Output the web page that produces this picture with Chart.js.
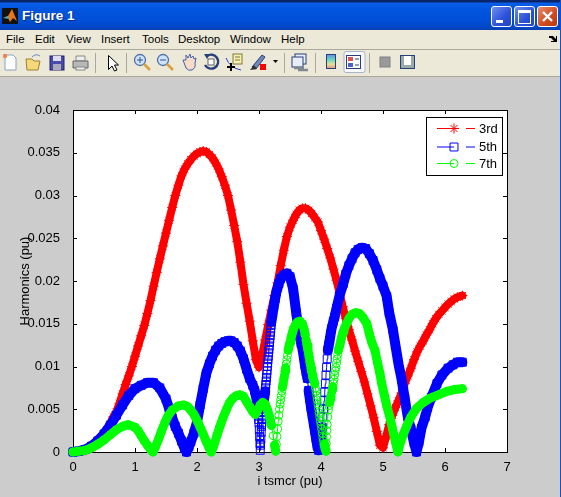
<!DOCTYPE html>
<html>
<head>
<meta charset="utf-8">
<title>Figure 1</title>
<script src="https://cdn.jsdelivr.net/npm/chart.js@4"></script>
<style>
html, body { margin: 0; padding: 0; background: #ccc; overflow: hidden; }
#win { position: absolute; left: 0; top: 0; width: 561px; height: 497px; background: #ccc; font-family: "Liberation Sans", Arial, sans-serif; }
#edge { position: absolute; left: 560px; top: 0; width: 1px; height: 497px; background: #0a50d8; }
#titlebar { position: absolute; left: 0; top: 0; width: 561px; height: 30px; background: linear-gradient(#0a246a 0, #0a246a 2px, #0a5fe8 3px, #0256df 8px, #0050d8 20px, #0148c8 27px, #0a3fb0 30px); }
#titletext { position: absolute; left: 22px; top: 8px; color: #fff; font: bold 13.5px "Liberation Sans", sans-serif; text-shadow: 1px 1px 0 #0a2a80; }
.winbtn { position: absolute; top: 6px; width: 19px; height: 19px; border: 1px solid #fff; border-radius: 3px; background: linear-gradient(135deg, #6f8ff0, #2a50d8 60%, #2348c0); }
#menubar { position: absolute; left: 0; top: 30px; width: 561px; height: 19px; background: #ece9d8; border-bottom: 1px solid #aca899; }
#menubar span { position: absolute; top: 3px; font-size: 11.5px; color: #000; }
#toolbar { position: absolute; left: 0; top: 50px; width: 561px; height: 26px; background: #ece9d8; border-bottom: 1px solid #aca899; }
#toolbar svg { position: absolute; left: 0; top: 0; }
#chart { position: absolute; left: 0; top: 77px; }
</style>
</head>
<body>
<div id="win">
  <div id="titlebar">
    <svg style="position:absolute;left:2px;top:8px" width="16" height="16"><rect width="16" height="16" fill="#111"/><path d="M1 10L6 8L10 1L15 13L11 10L8 14L6 10Z" fill="#e8761a"/><path d="M1 10L6 8L7 11Z" fill="#3fa8c8"/></svg>
    <div id="titletext">Figure 1</div>
    <div class="winbtn" style="left:491px"><div style="position:absolute;left:4px;top:13px;width:7px;height:3px;background:#fff"></div></div>
    <div class="winbtn" style="left:514px"><div style="position:absolute;left:3px;top:3px;width:11px;height:10px;border:1px solid #fff;border-top-width:3px;box-sizing:content-box"></div></div>
    <div class="winbtn" style="left:537px;background:linear-gradient(135deg,#e88a6a,#d04a20 60%,#b83810)"><svg width="19" height="19"><path d="M5 5L14 14M14 5L5 14" stroke="#fff" stroke-width="2.4"/></svg></div>
  </div>
  <div id="menubar">
    <span style="left:6px">File</span><span style="left:35px">Edit</span><span style="left:66px">View</span><span style="left:101px">Insert</span><span style="left:142px">Tools</span><span style="left:178px">Desktop</span><span style="left:230px">Window</span><span style="left:281px">Help</span>
    <svg style="position:absolute;left:548px;top:4px" width="10" height="10"><path d="M1 2L5 2L8 5L8 2L9 2L9 8L3 8L3 7L6 7L3 4L1 4Z" fill="#000"/></svg>
  </div>
  <div id="toolbar">
    <svg width="561" height="26">
      <!-- new / open / save / print -->
      <path d="M5 5H13L16 8V20H5Z" fill="#fff" stroke="#8aa0c0"/><circle cx="5" cy="6" r="2.2" fill="#f08050"/>
      <path d="M26 9H32L34 11H40L38 20H27Z" fill="#f5d878" stroke="#a08030"/><path d="M32 7Q36 3 40 6" stroke="#6a8ac0" fill="none"/>
      <rect x="50" y="6" width="14" height="14" fill="#4a4aa8" stroke="#22226a"/><rect x="53" y="6" width="8" height="5" fill="#dde"/><rect x="53" y="14" width="8" height="6" fill="#aab"/>
      <path d="M76 6H85V11H76Z" fill="#eee" stroke="#888"/><path d="M73 11H88V18H73Z" fill="#b8b8b8" stroke="#666"/><rect x="76" y="17" width="9" height="3" fill="#eee" stroke="#888"/>
      <rect x="95" y="3" width="1" height="20" fill="#aca899"/>
      <!-- arrow -->
      <path d="M108.500 5.500V19.500L112 16L114.500 21L117 20L114.500 15L118.500 15Z" fill="#fff" stroke="#000"/>
      <rect x="126" y="3" width="1" height="20" fill="#aca899"/>
      <!-- zoom in / out -->
      <circle cx="140" cy="10" r="5.500" fill="#cfe4f8" stroke="#5070a8" stroke-width="1.300"/><path d="M137 10H143M140 7V13" stroke="#3050a0"/><path d="M144 14L150 20" stroke="#d8a040" stroke-width="2.600"/>
      <circle cx="163" cy="10" r="5.500" fill="#cfe4f8" stroke="#5070a8" stroke-width="1.300"/><path d="M160 10H166" stroke="#3050a0"/><path d="M167 14L173 20" stroke="#d8a040" stroke-width="2.600"/>
      <!-- hand -->
      <path d="M183 10L186 18Q188 21 192 20Q196 18 195 13L196 8L194 9L193 6L191 8L190 4L188 8L186 5L186 10Z" fill="#f8dcc8" stroke="#4060a8"/>
      <!-- rotate -->
      <path d="M207 6A7 7 0 1 1 205 15" fill="none" stroke="#28407a" stroke-width="2.400"/><path d="M204 4L210 4L207 9Z" fill="#28407a"/><rect x="208" y="9" width="6" height="6" fill="#fff" stroke="#606060"/>
      <!-- data cursor -->
      <rect x="233" y="4" width="9" height="10" fill="#f5f0b0" stroke="#807840"/><path d="M235 7H240M235 10H240" stroke="#807840"/><path d="M226 8Q230 18 241 20" fill="none" stroke="#2040d0"/><path d="M227 17H235M231 13V21" stroke="#000" stroke-width="2"/>
      <!-- brush -->
      <path d="M252 17L262 5L265 7L256 19Z" fill="#7088c0" stroke="#304070"/><path d="M250 20L254 15L257 19Z" fill="#303030"/><rect x="260" y="14" width="6" height="6" fill="#f00"/>
      <path d="M273 10H278L275.500 13Z" fill="#000"/>
      <rect x="284" y="3" width="1" height="20" fill="#aca899"/>
      <!-- link -->
      <rect x="295" y="4" width="11" height="10" fill="#e8eef8" stroke="#28407a"/><rect x="292" y="7" width="11" height="10" fill="#e8eef8" stroke="#28407a"/><path d="M294 18H304M298 20H308" stroke="#808890" stroke-width="2.400"/>
      <rect x="315" y="3" width="1" height="20" fill="#aca899"/>
      <!-- colorbar -->
      <defs><linearGradient id="cb" x1="0" y1="0" x2="0" y2="1"><stop offset="0" stop-color="#6090e0"/><stop offset=".4" stop-color="#70d8c0"/><stop offset=".7" stop-color="#e8e090"/><stop offset="1" stop-color="#e09090"/></linearGradient></defs>
      <rect x="326.500" y="4.500" width="9" height="14" fill="url(#cb)" stroke="#28407a"/>
      <!-- legend, pressed -->
      <rect x="344" y="1.500" width="21" height="21" rx="2" fill="#f7f8fb" stroke="#a8b4cc"/>
      <rect x="346.500" y="5.500" width="14" height="13" fill="#fff" stroke="#28407a"/><rect x="348" y="7" width="5" height="4" fill="#e05050"/><rect x="348" y="13" width="5" height="4" fill="#5060d0"/><path d="M355 9H359M355 15H359" stroke="#28407a"/>
      <rect x="369" y="3" width="1" height="20" fill="#aca899"/>
      <rect x="380" y="7" width="10" height="10" fill="#999" stroke="#808080"/>
      <rect x="400.500" y="5.500" width="14" height="13" fill="#fff" stroke="#28407a"/><rect x="401" y="6" width="3" height="12" fill="#9aa"/><rect x="411" y="6" width="3" height="12" fill="#9aa"/><rect x="401" y="15" width="13" height="3" fill="#9aa"/>
    </svg>
  </div>
  <canvas id="chart" width="561" height="420"></canvas>
  <div id="edge"></div>
</div>
<script>
// values
const t3rd = [0,.1,.2,.3,.4,.45,.5,.55,.6,.65,.7,.75,.8,.85,.9,.95,1,1.05,1.1,1.15,1.2,1.25,1.3,1.35,1.4,1.45,1.5,1.55,1.6,1.65,1.7,1.75,1.8,1.85,1.9,1.95,2,2.05,2.1,2.15,2.2,2.25,2.3,2.35,2.4,2.45,2.5,2.55,2.6,2.65,2.7,2.75,2.8,2.85,2.9,2.95,3,3.05,3.1,3.15,3.2,3.25,3.3,3.35,3.4,3.45,3.5,3.55,3.6,3.65,3.7,3.75,3.8,3.85,3.9,3.95,4,4.05,4.1,4.15,4.2,4.25,4.3,4.35,4.4,4.45,4.5,4.55,4.6,4.65,4.7,4.75,4.8,4.85,4.9,4.95,5,5.05,5.1,5.15,5.2,5.25,5.3,5.35,5.4,5.45,5.5,5.55,5.6,5.65,5.7,5.75,5.8,5.85,5.9,5.95,6,6.05,6.1,6.15,6.2,6.28];
const h3rd = [0,.0001,.0002,.0005,.001,.0014,.0019,.0026,.0033,.0041,.0047,.0057,.0068,.0079,.0089,.01,.0112,.0124,.0136,.0148,.0162,.0177,.0194,.021,.0226,.0241,.0256,.0271,.0286,.03,.0312,.0323,.0331,.0337,.0342,.0346,.0349,.0351,.0352,.0351,.0348,.0344,.0338,.0331,.0322,.0312,.03,.0283,.0265,.0246,.0222,.0196,.0174,.0153,.013,.0108,.0099,.0113,.0131,.0149,.0166,.0183,.0198,.0218,.0236,.0252,.0263,.0271,.0278,.0283,.0285,.0285,.0283,.0279,.0274,.0269,.0259,.0249,.0238,.0227,.0214,.0201,.0186,.017,.0156,.0143,.0131,.0118,.0106,.0094,.0082,.0068,.0054,.004,.0024,.0008,.0005,.0018,.0032,.0043,.0052,.006,.0069,.008,.0089,.0098,.0108,.0117,.0124,.013,.0137,.0143,.015,.0156,.0161,.0165,.0169,.0173,.0176,.0179,.0181,.0183];

const t5th = [0,.1,.2,.3,.4,.5,.6,.7,.8,.9,1,1.1,1.2,1.3,1.4,1.5,1.55,1.6,1.65,1.7,1.75,1.8,1.83,1.87,1.9,1.95,2,2.05,2.1,2.15,2.2,2.25,2.3,2.35,2.4,2.45,2.5,2.55,2.6,2.65,2.7,2.75,2.8,2.85,2.9,2.93,2.96,2.97,2.98,2.985,2.99,2.995,3,3.005,3.01,3.015,3.02,3.025,3.03,3.035,3.04,3.045,3.05,3.055,3.06,3.065,3.07,3.075,3.08,3.09,3.1,3.105,3.11,3.115,3.12,3.125,3.13,3.135,3.14,3.145,3.15,3.155,3.16,3.165,3.17,3.175,3.18,3.185,3.19,3.195,3.2,3.22,3.24,3.26,3.28,3.3,3.32,3.35,3.4,3.45,3.5,3.55,3.6,3.62,3.64,3.66,3.68,3.7,3.72,3.74,3.76,3.78,3.8,3.82,3.84,3.86,3.88,3.9,3.92,3.94,3.96,3.98,4,4.02,4.03,4.04,4.05,4.06,4.07,4.08,4.09,4.1,4.11,4.125,4.14,4.155,4.17,4.2,4.22,4.25,4.3,4.36,4.4,4.45,4.5,4.55,4.6,4.66,4.72,4.78,4.84,4.9,4.95,5,5.06,5.1,5.16,5.2,5.25,5.3,5.35,5.4,5.45,5.5,5.54,5.58,5.62,5.68,5.72,5.78,5.87,5.95,6.05,6.13,6.2,6.28];
const h5th = [0,.0001,.0003,.0007,.0013,.0021,.0031,.0043,.0055,.0066,.0074,.0078,.0081,.0081,.0075,.0062,.0051,.004,.003,.0022,.0013,.0004,0,.0006,.0012,.0022,.0035,.0055,.0074,.0092,.0103,.0112,.0119,.0124,.0127,.0129,.013,.013,.0128,.0124,.0118,.0109,.0097,.0086,.0078,.0072,.0062,.0056,.005,.0046,.0042,.0038,.0034,.0026,.0018,.001,.0002,.0008,.0015,.0023,.003,.0034,.0038,.0042,.0046,.005,.0054,.0058,.0061,.0066,.0071,.0075,.0079,.0083,.0087,.0091,.0095,.01,.0104,.0108,.0112,.0116,.012,.0124,.0128,.0132,.0136,.014,.0144,.0148,.0152,.0162,.0171,.0179,.0187,.0192,.0197,.0203,.0207,.0209,.0205,.0191,.0163,.0153,.0144,.0135,.0127,.0121,.0112,.0102,.0094,.0086,.0072,.0062,.0052,.0043,.0034,.0025,.0016,.0007,.0002,.0008,.0018,.0029,.0041,.005,.006,.007,.008,.009,.0099,.0109,.0119,.0125,.0131,.0138,.0144,.0153,.0158,.0168,.0183,.0197,.0208,.0218,.0226,.0233,.0237,.0239,.0238,.0232,.0224,.0213,.0203,.0194,.0182,.0163,.0143,.0125,.0103,.0085,.0063,.0041,.0027,.0011,0,.0012,.0028,.0041,.0052,.0064,.008,.009,.0098,.0102,.0105,.0105];

const t7th = [0,.1,.2,.3,.4,.5,.6,.7,.8,.89,1,1.05,1.1,1.15,1.2,1.25,1.29,1.33,1.38,1.43,1.48,1.53,1.6,1.7,1.79,1.85,1.9,1.95,2,2.05,2.1,2.15,2.2,2.23,2.27,2.32,2.37,2.42,2.47,2.52,2.58,2.64,2.69,2.75,2.8,2.85,2.9,2.94,2.98,3.02,3.06,3.1,3.14,3.17,3.2,3.23,3.25,3.27,3.28,3.29,3.3,3.31,3.32,3.33,3.34,3.35,3.36,3.37,3.38,3.39,3.4,3.41,3.42,3.43,3.44,3.45,3.46,3.47,3.485,3.5,3.515,3.53,3.545,3.56,3.59,3.62,3.66,3.7,3.73,3.745,3.76,3.775,3.79,3.8,3.81,3.82,3.83,3.84,3.85,3.86,3.87,3.885,3.9,3.91,3.92,3.93,3.94,3.95,3.96,3.97,3.98,3.99,4,4.01,4.02,4.03,4.04,4.05,4.06,4.07,4.08,4.085,4.09,4.095,4.1,4.11,4.12,4.13,4.14,4.15,4.16,4.17,4.18,4.19,4.2,4.21,4.22,4.23,4.24,4.25,4.26,4.27,4.28,4.295,4.31,4.325,4.34,4.355,4.37,4.41,4.45,4.5,4.56,4.62,4.68,4.74,4.78,4.82,4.87,4.91,4.95,4.98,5.02,5.06,5.11,5.15,5.2,5.24,5.28,5.33,5.38,5.45,5.54,5.65,5.76,5.9,6.03,6.15,6.28];
const h7th = [0,.0001,.0002,.0005,.0009,.0014,.002,.0026,.003,.0032,.0029,.0025,.0019,.0013,.0008,.0003,0,.0006,.0015,.0025,.0034,.0042,.0049,.0054,.0055,.0053,.0049,.0044,.0037,.0029,.0021,.0012,.0004,0,.0007,.0019,.003,.004,.0049,.0057,.0063,.0066,.0067,.0065,.0059,.0053,.0047,.0044,.0049,.0055,.0058,.0056,.0049,.0041,.0031,.0019,.0008,.0001,.0009,.0018,.0027,.0036,.0043,.005,.0056,.0061,.0066,.0071,.0076,.008,.0085,.0089,.0094,.0098,.0103,.0108,.0113,.0119,.0124,.0128,.0133,.0137,.0141,.0145,.0149,.0152,.0153,.015,.0143,.0137,.0131,.0125,.0119,.0115,.0111,.0106,.0102,.0098,.0094,.009,.0087,.0083,.008,.0075,.0071,.0066,.0061,.0056,.0051,.0046,.0041,.0036,.0032,.0027,.0022,.0017,.0013,.0009,.0006,.0003,.0001,.001,.0018,.0025,.0032,.0041,.0049,.0054,.0058,.0062,.0065,.0069,.0073,.0076,.008,.0085,.009,.0095,.0099,.0104,.0109,.0114,.0119,.0123,.0127,.0132,.0136,.014,.0143,.015,.0156,.0161,.0163,.0162,.0157,.015,.0138,.0128,.0119,.0105,.0092,.008,.0067,.0054,.0041,.0028,.0012,0,.0011,.0021,.003,.0041,.0051,.0058,.0063,.0067,.0071,.0073,.0074];

const xTickLabels = ['0','1','2','3','4','5','6','7'];
const yTickLabels = ['0','0.005','0.01','0.015','0.02','0.025','0.03','0.035','0.04'];
const seriesNames = ['3rd','5th','7th'];
const seriesColors = ['#ff0000','#0000ff','#00ff00'];

const pairUp = (xs, ys) => xs.map((x, i) => ({ x: x, y: ys[i] }));

// the original has so many markers they merge into a band, except on the steep parts
function bandWidth(wide, limit) {
    return ctx => {
        const a = ctx.p0.parsed, b = ctx.p1.parsed;
        const slope = Math.abs(b.y - a.y) / Math.abs(b.x - a.x);
        return slope > limit ? 1 : wide;
    };
}

// axes box with inward ticks, MATLAB style
const matlabBox = {
    id: 'matlabBox',
    beforeDatasetsDraw(chart) {
        const { ctx, chartArea: a, scales } = chart;
        ctx.save();
        ctx.fillStyle = '#fff';
        ctx.fillRect(a.left, a.top, a.right - a.left, a.bottom - a.top);
        ctx.strokeStyle = '#000';
        ctx.lineWidth = 1;
        ctx.strokeRect(a.left + .5, a.top + .5, a.right - a.left, a.bottom - a.top);
        ctx.beginPath();
        scales.x.ticks.forEach(t => {
            const x = Math.round(scales.x.getPixelForValue(t.value)) + .5;
            ctx.moveTo(x, a.bottom); ctx.lineTo(x, a.bottom - 4);
            ctx.moveTo(x, a.top); ctx.lineTo(x, a.top + 4);
        });
        scales.y.ticks.forEach(t => {
            const y = Math.round(scales.y.getPixelForValue(t.value)) + .5;
            ctx.moveTo(a.left, y); ctx.lineTo(a.left + 4, y);
            ctx.moveTo(a.right, y); ctx.lineTo(a.right - 4, y);
        });
        ctx.stroke();
        ctx.restore();
    }
};

// legend box in the top right corner of the axes
const matlabLegend = {
    id: 'matlabLegend',
    afterDatasetsDraw(chart) {
        const { ctx, chartArea: a } = chart;
        const left = a.right - 81, top = a.top + 7, rows = [11, 29.5, 46];
        ctx.save();
        ctx.fillStyle = '#fff';
        ctx.fillRect(left, top, 76, 58);
        ctx.strokeStyle = '#000';
        ctx.lineWidth = 1;
        ctx.strokeRect(left + .5, top + .5, 76, 58);
        ctx.font = '13px "Liberation Sans", Arial, sans-serif';
        ctx.textBaseline = 'middle';
        chart.data.datasets.forEach((ds, i) => {
            const y = top + rows[i] + .5;
            ctx.strokeStyle = ds.borderColor;
            ctx.beginPath();
            ctx.moveTo(left + 11, y); ctx.lineTo(left + 28, y);
            ctx.moveTo(left + 40, y); ctx.lineTo(left + 49, y);
            ctx.stroke();
            ctx.fillStyle = 'rgba(0,0,0,0)';
            Chart.helpers.drawPoint(ctx, { pointStyle: ds.pointStyle, radius: ds.pointRadius, rotation: 0, borderWidth: 1 }, left + 28, y);
            ctx.fillStyle = '#000';
            ctx.fillText(ds.label, left + 53, y + .5);
        });
        ctx.restore();
    }
};

const labelFont = { family: '"Liberation Sans", Arial, sans-serif', size: 13 };
const bandOpts = { backgroundColor: 'transparent', pointBackgroundColor: 'transparent', pointBorderWidth: 1, borderCapStyle: 'round', borderJoinStyle: 'round', clip: false };

new Chart(document.getElementById('chart').getContext('2d'), {
    type: 'line',
    data: {
        datasets: [
            { ...bandOpts, label: seriesNames[0], data: pairUp(t3rd, h3rd), borderColor: seriesColors[0], pointBorderColor: seriesColors[0], pointStyle: 'star', pointRadius: 5, borderWidth: 8, order: 3, segment: { borderWidth: bandWidth(8, 1) } },
            { ...bandOpts, label: seriesNames[1], data: pairUp(t5th, h5th), borderColor: seriesColors[1], pointBorderColor: seriesColors[1], pointStyle: 'rect', pointRadius: 5.6, borderWidth: 10, order: 2, segment: { borderWidth: bandWidth(10, .06) } },
            { ...bandOpts, label: seriesNames[2], data: pairUp(t7th, h7th), borderColor: seriesColors[2], pointBorderColor: seriesColors[2], pointStyle: 'circle', pointRadius: 4, borderWidth: 9, order: 1, segment: { borderWidth: bandWidth(9, .04) } }
        ]
    },
    options: {
        responsive: false,
        animation: false,
        parsing: false,
        layout: { padding: { top: 33, right: 54, left: 0, bottom: 0 } },
        plugins: { legend: { display: false }, tooltip: { enabled: false } },
        scales: {
            x: {
                type: 'linear', min: 0, max: 7,
                grid: { display: false }, border: { display: false },
                ticks: { stepSize: 1, color: '#000', font: labelFont, padding: 0, maxRotation: 0, callback: (v, i) => xTickLabels[i] },
                title: { display: true, text: 'i tsmcr (pu)', color: '#000', font: labelFont, padding: { top: 5, bottom: 8 } },
                afterFit: s => { s.height = 45; }
            },
            y: {
                type: 'linear', min: 0, max: 0.04,
                grid: { display: false }, border: { display: false },
                ticks: { stepSize: 0.005, color: '#000', font: labelFont, padding: 5, callback: (v, i) => yTickLabels[i] },
                title: { display: true, text: 'Harmonics (pu)', color: '#000', font: labelFont, padding: { top: 18, bottom: 0 } },
                afterFit: s => { s.width = 73; }
            }
        }
    },
    plugins: [matlabBox, matlabLegend]
});
</script>
</body>
</html>
